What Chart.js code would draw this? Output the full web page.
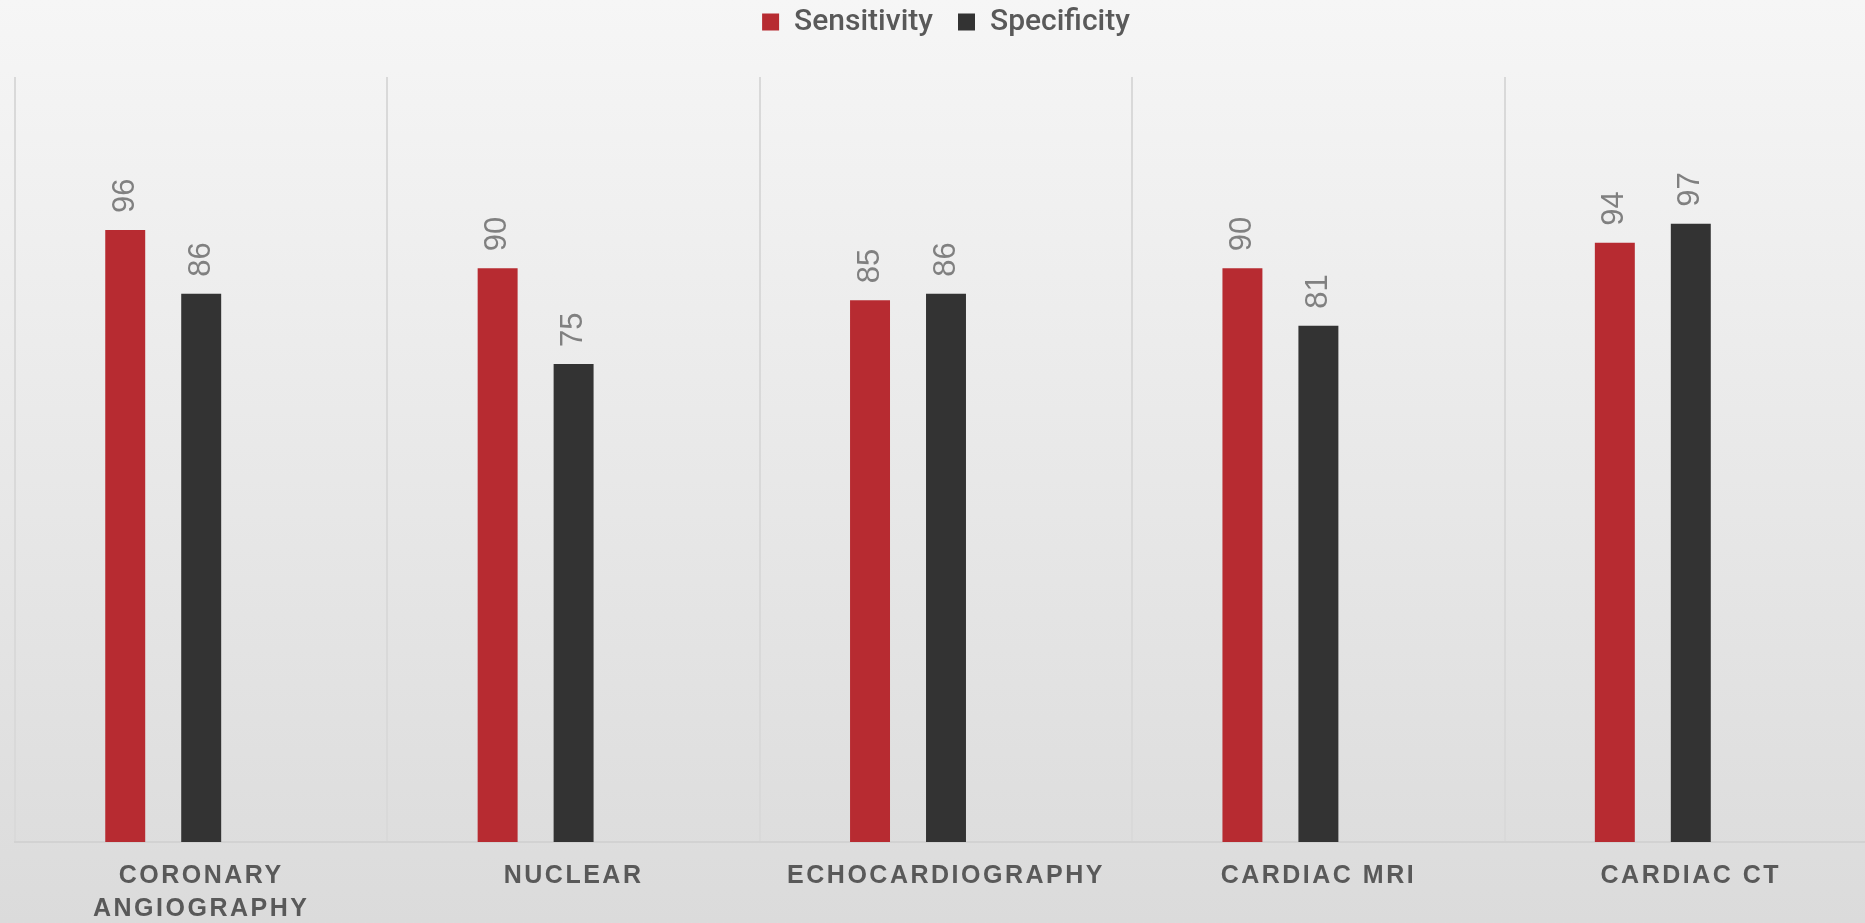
<!DOCTYPE html>
<html>
<head>
<meta charset="utf-8">
<title>Sensitivity and Specificity by Imaging Modality</title>
<script src="https://cdn.jsdelivr.net/npm/chart.js@4.4.1/dist/chart.umd.min.js"></script>
<style>
  html, body { margin: 0; padding: 0; overflow: hidden; }
  body { width: 1865px; height: 923px; background: linear-gradient(#f6f6f6, #dbdbdb); }
  #wrap { position: relative; width: 1901px; height: 923px; }
</style>
</head>
<body>
<div id="wrap"><canvas id="chart"></canvas></div>
<script>
// Modalities along the x axis
const categories = [['CORONARY', 'ANGIOGRAPHY'], 'NUCLEAR', 'ECHOCARDIOGRAPHY', 'CARDIAC MRI', 'CARDIAC CT'];

// Percent values per modality
const sensitivity = [96, 90, 85, 90, 94];
const specificity = [86, 75, 86, 81, 97];

// Empty third slot in each group (keeps the two bars left of the group centre)
const spare = categories.map(() => null);

const seriesNames = ['Sensitivity', 'Specificity'];
const seriesColors = ['#b72b31', '#333333'];

const textGrey = '#595959';

// Value labels written vertically above each bar; afterwards switch on
// letter spacing for the category labels, which are drawn on a higher layer.
const barValues = {
  id: 'barValues',
  afterDatasetsDraw(chart) {
    const ctx = chart.ctx;
    ctx.save();
    ctx.letterSpacing = '0px';
    ctx.font = '31px "Liberation Sans", Arial, sans-serif';
    ctx.fillStyle = '#808080';
    ctx.textAlign = 'left';
    ctx.textBaseline = 'middle';
    chart.data.datasets.forEach((ds, i) => {
      if (!ds.label) return;
      const meta = chart.getDatasetMeta(i);
      meta.data.forEach((bar, j) => {
        const v = ds.data[j];
        if (v == null) return;
        ctx.save();
        ctx.translate(bar.x, bar.y - 17);
        ctx.rotate(-Math.PI / 2);
        ctx.fillText(String(v), 0, 0);
        ctx.restore();
      });
    });
    ctx.restore();
    ctx.letterSpacing = '2.5px';
  },
  afterDraw(chart) {
    chart.ctx.letterSpacing = '0px';
  }
};

// Extra room under the legend
const legendRoom = {
  id: 'legendRoom',
  beforeInit(chart) {
    const fit = chart.legend.fit;
    chart.legend.fit = function () {
      fit.call(this);
      this.height += 30;
    };
  }
};

new Chart(document.getElementById('chart'), {
  type: 'bar',
  data: {
    labels: categories,
    datasets: [
      { label: seriesNames[0], data: sensitivity, backgroundColor: seriesColors[0] },
      { label: seriesNames[1], data: specificity, backgroundColor: seriesColors[1] },
      { label: '', data: spare, backgroundColor: 'rgba(0,0,0,0)' }
    ]
  },
  options: {
    responsive: true,
    maintainAspectRatio: false,
    animation: false,
    devicePixelRatio: 1,
    datasets: {
      bar: { categoryPercentage: 0.612, barPercentage: 0.526 }
    },
    layout: { padding: { top: -18, left: 15, right: 24, bottom: -21 } },
    plugins: {
      tooltip: { enabled: false },
      legend: {
        position: 'top',
        labels: {
          boxWidth: 17,
          boxHeight: 17,
          padding: 25,
          color: textGrey,
          font: { family: 'Roboto, "Liberation Sans", sans-serif', size: 30, weight: 500 },
          filter: (item) => item.text !== ''
        }
      }
    },
    scales: {
      x: {
        grid: { display: true, offset: true, color: '#d9d9d9', lineWidth: 2, drawTicks: false },
        border: { display: true, color: '#d2d2d2', width: 2 },
        ticks: {
          z: 1,
          color: textGrey,
          padding: 18,
          maxRotation: 0,
          autoSkip: false,
          font: { family: '"Liberation Sans", Arial, sans-serif', size: 25, weight: 'bold', lineHeight: 1.32 }
        }
      },
      y: {
        display: false,
        min: 0,
        max: 120
      }
    }
  },
  plugins: [barValues, legendRoom]
});
</script>
</body>
</html>
